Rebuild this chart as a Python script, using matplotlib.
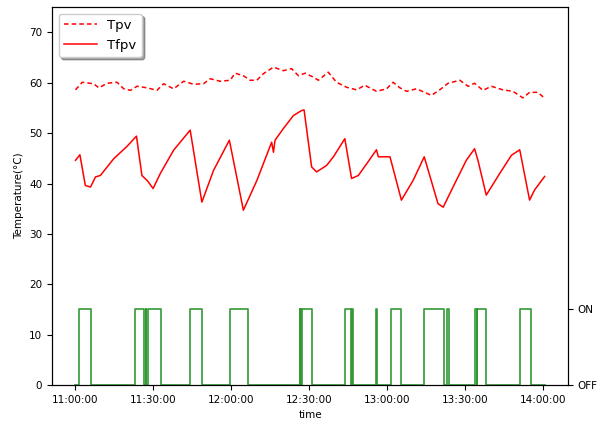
import matplotlib
matplotlib.use('Agg')
from matplotlib import pyplot as plt
import matplotlib.dates as mdates
import pandas as pd

# minutes after 11:00 and temperatures
tfpv_min = [0, 1.7, 3.8, 5.8, 7.7, 9.6, 14.7, 19.9, 23.5, 25.6, 27.8, 29.9, 32.7, 37.8,
            44.2, 48.7, 53.2, 59.3, 64.7, 69.9, 75.6, 76.3, 76.9, 80.1, 84.0, 87.2, 88.1,
            91.0, 92.9, 96.8, 99.4, 103.8, 106.4, 109.0, 112.2, 116.0, 116.7, 121.2,
            125.6, 130.1, 134.4, 139.7, 141.7, 145.5, 150.6, 153.8, 155.1, 158.3, 163.5,
            168.0, 171.2, 175.0, 176.9, 180.8]
tfpv = [44.6, 45.7, 39.6, 39.3, 41.3, 41.6, 44.9, 47.4, 49.4, 41.6, 40.5, 39.0, 42.0, 46.6,
        50.6, 36.3, 42.6, 48.6, 34.7, 40.6, 48.2, 46.2, 48.6, 50.9, 53.5, 54.5, 54.6,
        43.3, 42.3, 43.6, 45.3, 48.9, 41.0, 41.6, 43.9, 46.7, 45.3, 45.3,
        36.7, 40.6, 45.3, 36.0, 35.3, 39.3, 44.6, 46.9, 44.6, 37.7, 42.0,
        45.6, 46.7, 36.7, 38.7, 41.4]

tpv_min = [0, 2.6, 7.0, 9.0, 12.2, 16.0, 18.6, 21.2, 23.7, 27.6, 31.4, 34.0, 37.8, 41.7,
           45.5, 49.3, 51.9, 55.8, 59.6, 61.5, 64.7, 67.3, 69.9, 72.4, 76.3, 80.1, 83.3,
           85.9, 88.5, 91.7, 93.6, 97.4, 100.6, 104.5, 108.3, 111.5, 116.0, 119.9, 122.4,
           125.0, 127.6, 131.4, 137.2, 140.4, 143.6, 148.1, 151.3, 153.8, 157.0, 160.3,
           164.7, 168.6, 172.4, 175.0, 178.2, 180.6]
tpv = [58.6, 60.1, 59.8, 59.0, 59.9, 60.1, 58.8, 58.5, 59.3, 59.0, 58.5, 59.8, 58.8, 60.3,
       59.7, 59.8, 60.8, 60.3, 60.5, 61.9, 61.4, 60.5, 60.5, 61.8, 63.1, 62.4, 62.8,
       61.4, 61.9, 61.1, 60.5, 62.1, 60.1, 59.1, 58.6, 59.5, 58.3, 58.8, 60.1,
       59.0, 58.3, 58.8, 57.5, 58.6, 59.9, 60.5, 59.3, 59.9, 58.5, 59.3,
       58.6, 58.3, 57.0, 58.1, 58.1, 57.0]

# pump on/off intervals (minutes after 11:00)
pump_on = [1.5, 22.8, 27.0, 27.9, 59.4, 44.2, 86.5, 86.9, 87.4, 103.9, 106.5, 115.9,
           121.4, 134.4, 143.0, 153.8, 154.8, 171.4]
pump_off = [6.0, 26.3, 27.3, 33.0, 66.3, 48.6, 86.7, 87.1, 91.0, 106.3, 106.8, 116.2,
            125.6, 141.9, 143.9, 154.6, 158.3, 175.6]
end_min = 180.8

start = pd.Timestamp('2020-01-01 11:00:00')

def to_time(mins):
    return [start + pd.Timedelta(minutes=m) for m in mins]

# build the step signal
ivs = sorted(zip(pump_on, pump_off))
sig_t = [0]
sig_v = [0]
for a, b in ivs:
    sig_t += [a, b]
    sig_v += [15, 0]
sig_t.append(end_min)
sig_v.append(0)

plt.rcParams['font.size'] = 7.5
fig = plt.figure(figsize=(5.98, 4.24), dpi=100)
ax = fig.add_axes([0.087, 0.092, 0.863, 0.891])

ax.plot(to_time(tpv_min), tpv, color='red', ls=(0, (3, 2)), lw=1.1, label='Tpv')
ax.plot(to_time(tfpv_min), tfpv, 'r-', lw=1.1, label='Tfpv')
ax.plot(to_time(sig_t), sig_v, color='green', lw=1.2, alpha=0.8, drawstyle='steps-post')

ax.set_ylim(0, 75)
ax.set_yticks([0, 10, 20, 30, 40, 50, 60, 70])
ax.xaxis.set_major_locator(mdates.MinuteLocator(byminute=[0, 30]))
ax.xaxis.set_major_formatter(mdates.DateFormatter('%H:%M:%S'))
ax.set_xlabel('time')
ax.set_ylabel('Temperature(\u00b0C)')
ax.legend(loc='upper left', shadow=True, fontsize=9.5, handlelength=2.5)

ax2 = ax.twinx()
ax2.set_ylim(0, 75)
ax2.set_yticks([0, 15])
ax2.set_yticklabels(['OFF', 'ON'])

fig.savefig('out.png', dpi=100)
